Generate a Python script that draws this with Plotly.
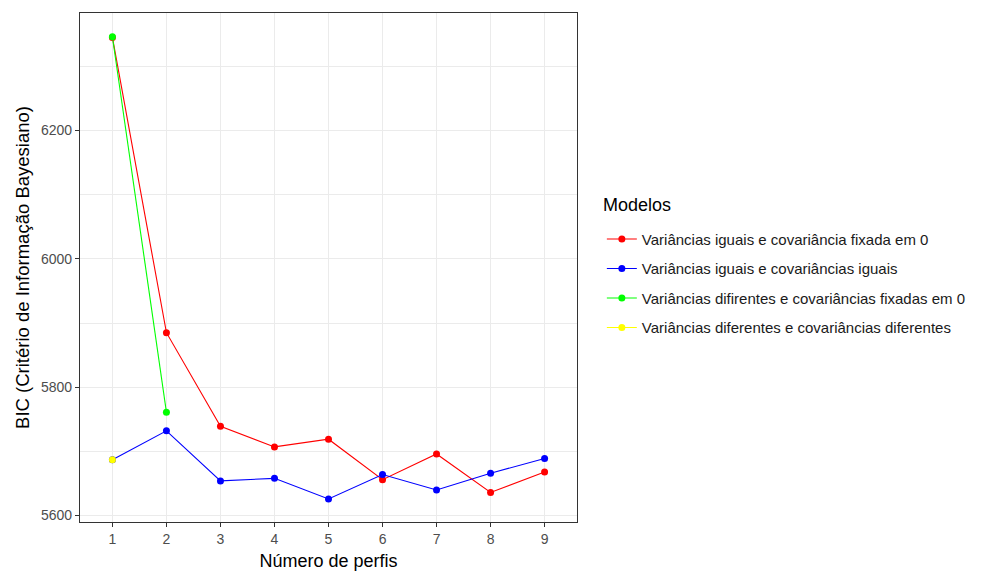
import plotly.graph_objects as go

x_perfis = [1, 2, 3, 4, 5, 6, 7, 8, 9]
x_tick_labels = ["1", "2", "3", "4", "5", "6", "7", "8", "9"]

bic_iguais_cov0 = [6345, 5885, 5739, 5707, 5719, 5656, 5696, 5636, 5668]
bic_iguais_covig = [5687, 5732, 5654, 5658, 5626, 5664, 5640, 5666, 5689]
x_dif_cov0 = [1, 2]
bic_dif_cov0 = [6346, 5761]
x_dif_covdif = [1]
bic_dif_covdif = [5687]

nomes = [
    "Variâncias iguais e covariância fixada em 0",
    "Variâncias iguais e covariâncias iguais",
    "Variâncias difirentes e covariâncias fixadas em 0",
    "Variâncias diferentes e covariâncias diferentes",
]
cores = ["#FF0000", "#0000FF", "#00FF00", "#FFFF00"]
titulo_legenda = "Modelos"

series = [
    (x_perfis, bic_iguais_cov0),
    (x_perfis, bic_iguais_covig),
    (x_dif_cov0, bic_dif_cov0),
    (x_dif_covdif, bic_dif_covdif),
]

fig = go.Figure()
for i, ((xs, ys), nome, cor) in enumerate(zip(series, nomes, cores)):
    fig.add_trace(go.Scatter(
        x=xs, y=ys, mode="lines+markers", name=nome,
        legendgroup=f"g{i}",
        line=dict(color=cor, width=1.1),
        marker=dict(color=cor, size=7),
    ))

font_family = "Liberation Sans, Arial, sans-serif"
fig.update_layout(
    width=983, height=572,
    margin=dict(l=80, r=406, t=13, b=50),
    paper_bgcolor="white", plot_bgcolor="white",
    font=dict(family=font_family, color="black"),
    showlegend=True,
    legend=dict(
        font=dict(size=15, color="#1A1A1A"),
        x=1.050, xanchor="left", y=0.588, yanchor="top",
        tracegroupgap=7,
        bgcolor="rgba(0,0,0,0)",
    ),
    annotations=[dict(
        text=titulo_legenda, xref="paper", yref="paper",
        x=1.048, y=(522 - 205) / 509, xanchor="left", yanchor="middle",
        showarrow=False, font=dict(size=18, color="black"),
    )],
)
fig.update_xaxes(
    range=[0.4, 9.6], automargin=False,
    tickmode="array", tickvals=x_perfis, ticktext=x_tick_labels,
    showgrid=True, gridcolor="#EBEBEB", gridwidth=1.07,
    zeroline=False,
    showline=True, mirror=True, linecolor="#333333", linewidth=1.07,
    ticks="outside", ticklen=4, tickcolor="#333333", tickwidth=1.07,
    tickfont=dict(size=14, color="#4D4D4D"),
    title=dict(text="Número de perfis", font=dict(size=18, color="black"), standoff=8),
)
fig.update_yaxes(
    range=[5590, 6383], automargin=False,
    tick0=5600, dtick=200,
    showgrid=True, gridcolor="#EBEBEB", gridwidth=1.07,
    minor=dict(dtick=100, tick0=5600, showgrid=True, gridcolor="#EBEBEB", gridwidth=0.53, ticks=""),
    zeroline=False,
    showline=True, mirror=True, linecolor="#333333", linewidth=1.07,
    ticks="outside", ticklen=4, tickcolor="#333333", tickwidth=1.07,
    tickfont=dict(size=14, color="#4D4D4D"),
    title=dict(text="BIC (Critério de Informação Bayesiano)", font=dict(size=18.5, color="black"), standoff=6),
)

fig.write_html("out.html")
